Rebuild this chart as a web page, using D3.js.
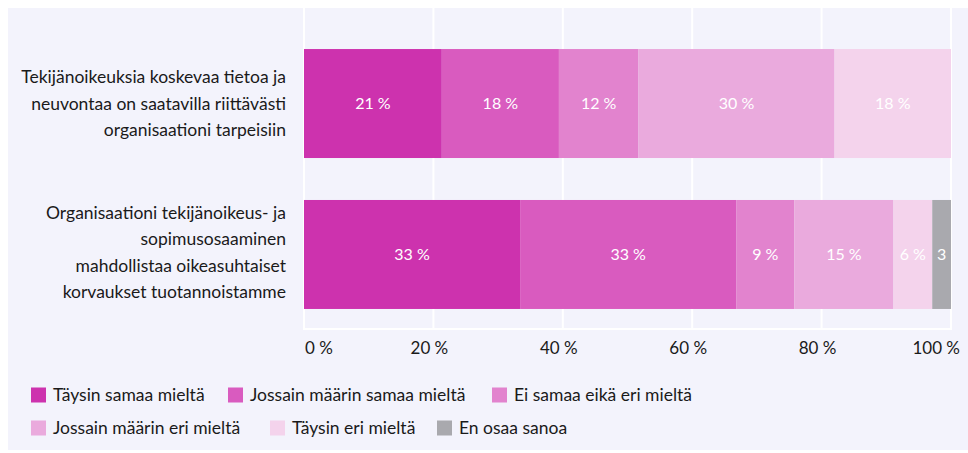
<!DOCTYPE html>
<html>
<head>
<meta charset="utf-8">
<script src="https://cdn.jsdelivr.net/npm/d3@7/dist/d3.min.js"></script>
<style>
	html, body { margin: 0; padding: 0; background: #fff; }
	svg { display: block; font-family: Lato, "Open Sans", sans-serif; }
</style>
</head>
<body>
<script>
// data
var categories = [
	['Tekijänoikeuksia koskevaa tietoa ja', 'neuvontaa on saatavilla riittävästi', 'organisaationi tarpeisiin'],
	['Organisaationi tekijänoikeus- ja', 'sopimusosaaminen', 'mahdollistaa oikeasuhtaiset', 'korvaukset tuotannoistamme']
];
var seriesNames = ['Täysin samaa mieltä', 'Jossain määrin samaa mieltä', 'Ei samaa eikä eri mieltä',
	'Jossain määrin eri mieltä', 'Täysin eri mieltä', 'En osaa sanoa'];
var seriesColors = ['#cd32ae', '#d95bbf', '#e283ce', '#eaaadd', '#f4d3ec', '#a9a9ae'];
var values = [
	[21.3, 18.1, 12.3, 30.3, 18.0, 0],
	[33.4, 33.4, 9.0, 15.3, 6.0, 2.9]
];
var tickValues = [0, 20, 40, 60, 80, 100];

var W = 968, H = 453;
var svg = d3.select('body').append('svg').attr('width', W).attr('height', H);

svg.append('rect')
	.attr('x', 8).attr('y', 8)
	.attr('width', W - 8).attr('height', H - 11)
	.attr('fill', '#f3f3fc');

var x = d3.scaleLinear().domain([0, 100]).range([304, 951]);
var y = d3.scaleBand().domain(d3.range(categories.length)).range([27.9, 330.1]).paddingInner(0.278).paddingOuter(0.14);

// gridlines
svg.append('g').selectAll('line')
	.data(tickValues)
	.join('line')
		.attr('x1', function (d) { return x(d); })
		.attr('x2', function (d) { return x(d); })
		.attr('y1', 8)
		.attr('y2', 329)
		.attr('stroke', '#fff')
		.attr('stroke-width', 2);

svg.append('line')
	.attr('x1', x(0) - 1).attr('x2', x(100) + 1)
	.attr('y1', 329).attr('y2', 329)
	.attr('stroke', '#fff').attr('stroke-width', 2);

// bars
var rows = svg.append('g').selectAll('g')
	.data(values)
	.join('g');

rows.each(function (row, i) {
	var g = d3.select(this),
		start = 0,
		segs = row.map(function (v, j) {
			var s = { v: v, j: j, x0: start, x1: start + v };
			start += v;
			return s;
		}).filter(function (s) { return s.v > 0; });

	g.selectAll('rect')
		.data(segs)
		.join('rect')
			.attr('x', function (d) { return x(d.x0); })
			.attr('width', function (d) { return x(d.x1) - x(d.x0); })
			.attr('y', y(i))
			.attr('height', y.bandwidth())
			.attr('fill', function (d) { return seriesColors[d.j]; });

	g.selectAll('text')
		.data(segs)
		.join('text')
			.attr('x', function (d) { return (x(d.x0) + x(d.x1)) / 2; })
			.attr('y', y(i) + y.bandwidth() / 2)
			.attr('dy', '0.35em')
			.attr('text-anchor', 'middle')
			.attr('fill', '#fff')
			.style('font-size', '16px')
			.text(function (d) {
				var w = x(d.x1) - x(d.x0);
				return w < 30 ? Math.round(d.v) : Math.round(d.v) + ' %';
			});

	// category label
	var lines = categories[i],
		lh = 26.5,
		cy = y(i) + y.bandwidth() / 2 - (lines.length - 1) * lh / 2 - (lines.length > 3 ? 2 : 0);
	var t = svg.append('text')
		.attr('text-anchor', 'end')
		.attr('fill', '#1a1a1a')
		.style('font-size', '17.5px');
	lines.forEach(function (l, k) {
		t.append('tspan')
			.attr('x', 286)
			.attr('y', cy + k * lh)
			.attr('dy', '0.35em')
			.text(l);
	});
});

// axis labels
svg.append('g').selectAll('text')
	.data(tickValues)
	.join('text')
		.attr('x', function (d, i) {
			if (i === 0) return x(d) + 1;
			if (i === tickValues.length - 1) return x(d) + 9;
			return x(d) - 4;
		})
		.attr('y', 348)
		.attr('dy', '0.35em')
		.attr('text-anchor', function (d, i) {
			if (i === 0) return 'start';
			if (i === tickValues.length - 1) return 'end';
			return 'middle';
		})
		.attr('fill', '#1a1a1a')
		.style('font-size', '17px')
		.text(function (d) { return d + ' %'; });

// legend
var legendPos = [[31, 395], [228, 395], [492, 395], [31, 428], [270, 428], [437, 428]];
var legend = svg.append('g').selectAll('g')
	.data(seriesNames)
	.join('g')
		.attr('transform', function (d, i) { return 'translate(' + legendPos[i] + ')'; });

legend.append('rect')
	.attr('x', 0).attr('y', -7.5)
	.attr('width', 15).attr('height', 15)
	.attr('fill', function (d, i) { return seriesColors[i]; });

legend.append('text')
	.attr('x', 22)
	.attr('dy', '0.35em')
	.attr('fill', '#1a1a1a')
	.style('font-size', '17.5px')
	.text(function (d) { return d; });
</script>
</body>
</html>
